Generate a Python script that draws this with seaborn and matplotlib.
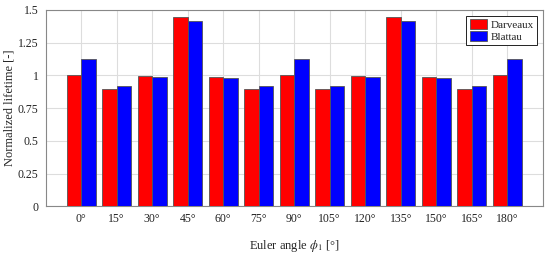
import matplotlib
matplotlib.use("Agg")
import numpy as np
import pandas as pd
import matplotlib.pyplot as plt
import seaborn as sns

angles = ["0°", "15°", "30°", "45°", "60°", "75°", "90°", "105°", "120°",
          "135°", "150°", "165°", "180°"]
darveaux = [1.005, 0.900, 0.995, 1.445, 0.988, 0.900, 1.005, 0.900, 0.995,
            1.445, 0.988, 0.900, 1.005]
blattau = [1.125, 0.918, 0.988, 1.415, 0.982, 0.918, 1.125, 0.918, 0.988,
           1.415, 0.982, 0.918, 1.125]

df = pd.DataFrame({
    "angle": angles * 2,
    "value": darveaux + blattau,
    "model": ["Darveaux"] * len(angles) + ["Blattau"] * len(angles),
})

sns.set_style("white")
plt.rcParams["font.family"] = ["Liberation Serif", "DejaVu Serif"]
plt.rcParams["mathtext.fontset"] = "stix"

fig, ax = plt.subplots(figsize=(5.5, 2.63), dpi=100)
sns.barplot(data=df, x="angle", y="value", hue="model",
            palette={"Darveaux": "#ff0000", "Blattau": "#0000ff"},
            width=0.82, edgecolor="#555555", linewidth=0.6, saturation=1,
            ax=ax, zorder=3)

ax.set_xlim(-1, 13)
ax.set_ylim(0, 1.5)
ax.set_yticks([0, 0.25, 0.5, 0.75, 1, 1.25, 1.5])
ax.set_yticklabels(["0", "0.25", "0.5", "0.75", "1", "1.25", "1.5"])
ax.grid(True, color="#dddddd", linewidth=0.8, zorder=0)
ax.set_axisbelow(True)
for s in ax.spines.values():
    s.set_color("#888888")
    s.set_linewidth(0.8)
ax.tick_params(axis="both", labelsize=8.5, length=0, pad=5, colors="#222222")
ax.set_xlabel(r"Euler angle $\phi_1$ [°]", fontsize=9, labelpad=9)
ax.set_ylabel("Normalized lifetime [-]", fontsize=9, labelpad=2)

leg = ax.legend(loc="upper right", fontsize=8, frameon=True, fancybox=False,
                edgecolor="#222222", framealpha=1, handlelength=1.6,
                handleheight=1.0, borderpad=0.3, labelspacing=0.15,
                handletextpad=0.3, borderaxespad=0.5)
leg.get_frame().set_linewidth(0.7)

fig.subplots_adjust(left=0.083, right=0.987, top=0.962, bottom=0.215)
fig.savefig("out.png", dpi=100)
